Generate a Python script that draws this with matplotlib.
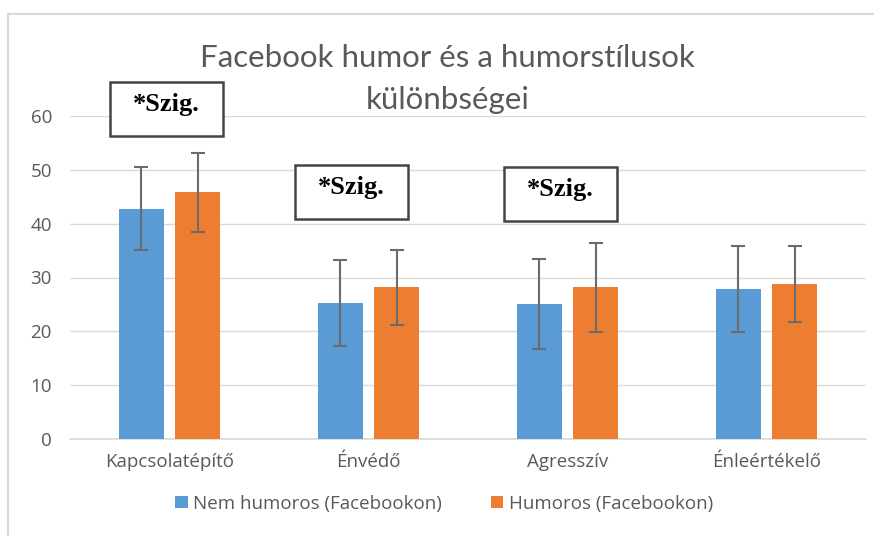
import matplotlib.pyplot as plt
from matplotlib.patches import Rectangle
import numpy as np

categories = ["Kapcsolatépítő", "Énvédő", "Agresszív", "Énleértékelő"]
nem_humoros = [42.8, 25.2, 25.1, 27.8]
nem_humoros_err = [7.7, 8.0, 8.4, 8.0]
humoros = [45.8, 28.2, 28.2, 28.8]
humoros_err = [7.35, 7.0, 8.3, 7.0]
series_names = ["Nem humoros (Facebookon)", "Humoros (Facebookon)"]

# significance boxes: (category index, x offset, bottom y)
sig_boxes = [(0, -0.30, 56.3), (1, -0.37, 40.9), (2, -0.32, 40.5)]
sig_label = "*Szig."

blue = "#5B9BD5"
orange = "#ED7D31"
grey_txt = "#595959"

plt.rcParams['font.family'] = ['Open Sans', 'DejaVu Sans']

fig = plt.figure(figsize=(8.74, 5.36), dpi=100)
# outer chart border (left and top only visible)
fig.add_artist(plt.Line2D([8 / 874, 8 / 874], [0, 1 - 14 / 536], color="#D9D9D9", lw=1.5))
fig.add_artist(plt.Line2D([8 / 874, 1], [1 - 14 / 536, 1 - 14 / 536], color="#D9D9D9", lw=1.5))

ax = fig.add_axes([70 / 874, 1 - 439 / 536, 796 / 874, 323 / 536])

x = np.arange(len(categories))
w = 0.225
off = 0.142
err_kw = dict(ecolor="#6b6b6b", elinewidth=1.5, capsize=5, capthick=1.5)
ax.bar(x - off, nem_humoros, w, color=blue, yerr=nem_humoros_err, error_kw=err_kw,
       label=series_names[0], zorder=3)
ax.bar(x + off, humoros, w, color=orange, yerr=humoros_err, error_kw=err_kw,
       label=series_names[1], zorder=3)

ax.set_xlim(-0.5, 3.5)
ax.set_ylim(0, 60)
ax.set_yticks(range(0, 61, 10))
ax.set_xticks(x)
ax.set_xticklabels(categories)
ax.grid(axis="y", color="#D9D9D9", lw=1, zorder=0)
for s in ["top", "right", "left"]:
    ax.spines[s].set_visible(False)
ax.spines["bottom"].set_color("#D9D9D9")
ax.spines["bottom"].set_linewidth(1.2)
ax.tick_params(axis="both", length=0, colors=grey_txt, labelsize=13.5)
ax.tick_params(axis="y", pad=13)
ax.tick_params(axis="x", pad=10)

for ci, dx, yb in sig_boxes:
    r = Rectangle((x[ci] + dx, yb), 0.57, 10, facecolor="white", edgecolor="#444444",
                  lw=1.8, clip_on=False, zorder=5)
    ax.add_patch(r)
    ax.text(x[ci] + dx + 0.285, yb + 5.8, sig_label, ha="center", va="center",
            family="Liberation Serif", weight="bold", fontsize=19, color="black",
            zorder=6, clip_on=False)

fig.text(0.512, 1 - 58 / 536, "Facebook humor és a humorstílusok", ha="center", va="center",
         fontsize=22.5, color=grey_txt, family=["Lato", "DejaVu Sans"])
fig.text(0.512, 1 - 100 / 536, "különbségei", ha="center", va="center",
         fontsize=22.5, color=grey_txt, family=["Lato", "DejaVu Sans"])

ax.legend(loc="center", bbox_to_anchor=(0.47, -0.2), ncol=2, frameon=False,
          handlelength=0.65, handleheight=0.65, handletextpad=0.3, columnspacing=2.6,
          labelcolor=grey_txt, prop={"size": 13.5})

fig.savefig("out.png", dpi=100)
